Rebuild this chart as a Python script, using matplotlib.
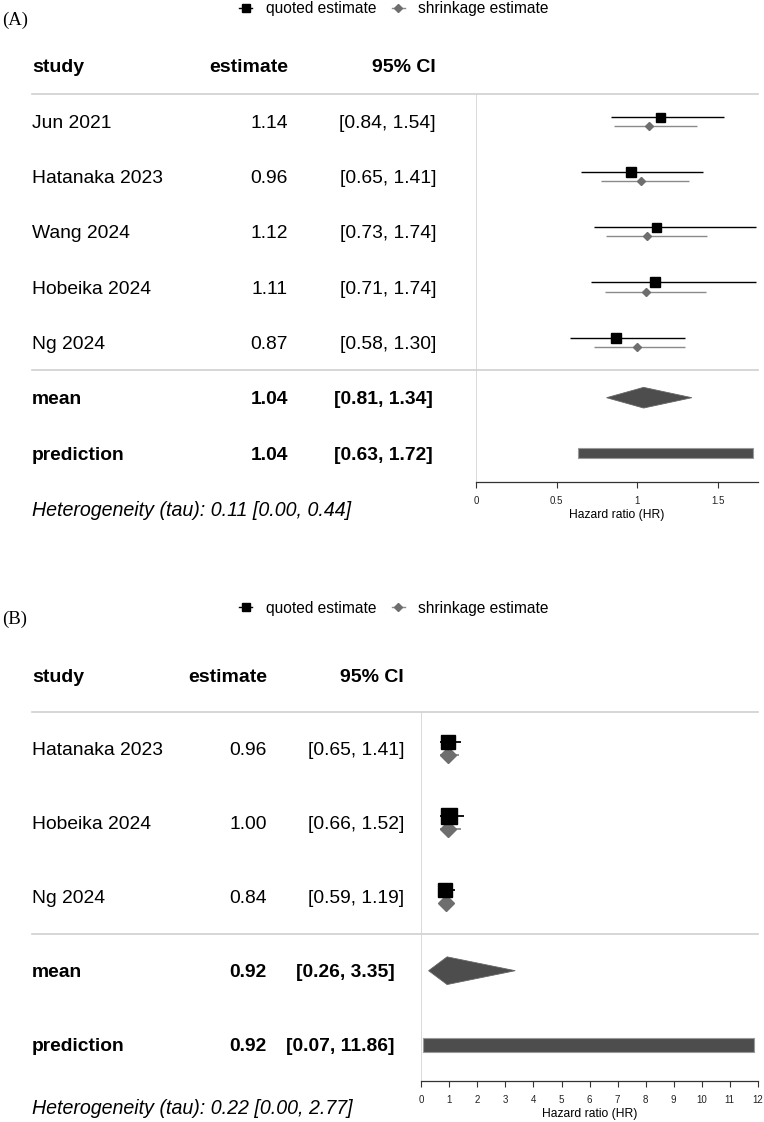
import matplotlib
matplotlib.use("Agg")
import matplotlib.pyplot as plt
from matplotlib.lines import Line2D
from matplotlib.patches import Polygon

plt.rcParams['font.family'] = ['Liberation Sans', 'DejaVu Sans']

W, H = 764, 1122

# ── Panel A data ────────────────────────────────────────────────
studies_a = ["Jun 2021", "Hatanaka 2023", "Wang 2024", "Hobeika 2024", "Ng 2024"]
est_a = [1.14, 0.96, 1.12, 1.11, 0.87]
lo_a = [0.84, 0.65, 0.73, 0.71, 0.58]
hi_a = [1.54, 1.41, 1.74, 1.74, 1.30]
shr_est_a = [1.075, 1.023, 1.062, 1.058, 1.002]
shr_lo_a = [0.857, 0.778, 0.807, 0.803, 0.731]
shr_hi_a = [1.375, 1.320, 1.433, 1.427, 1.296]
mean_a = [1.04, 0.81, 1.34]
pred_a = [1.04, 0.63, 1.72]
tau_a = [0.11, 0.00, 0.44]
ticks_a = [0, 0.5, 1, 1.5]
ticklabels_a = ["0", "0.5", "1", "1.5"]

# ── Panel B data ────────────────────────────────────────────────
studies_b = ["Hatanaka 2023", "Hobeika 2024", "Ng 2024"]
est_b = [0.96, 1.00, 0.84]
lo_b = [0.65, 0.66, 0.59]
hi_b = [1.41, 1.52, 1.19]
shr_est_b = [0.965, 0.965, 0.88]
shr_lo_b = [0.67, 0.67, 0.66]
shr_hi_b = [1.35, 1.42, 1.18]
mean_b = [0.92, 0.26, 3.35]
pred_b = [0.92, 0.07, 11.86]
tau_b = [0.22, 0.00, 2.77]
ticks_b = list(range(13))
ticklabels_b = [str(t) for t in ticks_b]

# marker sizes (pixels) for quoted squares
sq_px_a = [9, 9.3, 9, 10.7, 10.3]
sq_px_b = [14.5, 15.5, 13.5]

PT = 0.72  # px -> pt at dpi 100
FS = 13.9
GRID = '#d0d0d0'
DARK = '#4d4d4d'
SHR_LINE = '#8a8a8a'
SHR_MARK = '#6e6e6e'

fig = plt.figure(figsize=(W / 100, H / 100), dpi=100)
bg = fig.add_axes([0, 0, 1, 1])
bg.set_xlim(0, W)
bg.set_ylim(H, 0)
bg.axis('off')


def draw_panel(tag, legend_y, row0, step, axis_y, x0_px, xmax,
               studies, est, lo, hi, s_est, s_lo, s_hi, mean, pred, tau,
               ticks, ticklabels, sq_px, dia_px, lw, col_est, col_ci, col_ci_b,
               het_y):
    # panel tag + legend
    bg.text(2, legend_y + 11, tag, fontsize=13.5, family='Liberation Serif',
            va='center', ha='left')
    handles = [Line2D([0], [0], color='black', lw=1, marker='s', markersize=6),
               Line2D([0], [0], color=SHR_LINE, lw=1, marker='D',
                      markersize=4.5, markerfacecolor=SHR_MARK,
                      markeredgecolor=SHR_MARK)]
    fig.legend(handles, ["quoted estimate", "shrinkage estimate"], ncol=2,
               loc='center', bbox_to_anchor=(394 / W, 1 - legend_y / H),
               frameon=False, fontsize=11.2, handlelength=0.85,
               handletextpad=0.85, columnspacing=1.0, borderpad=0,
               borderaxespad=0)

    n = len(studies)
    ypix = lambda r: row0 + r * step + 2

    # table header
    hy = row0 - 0.965 * step
    bg.text(32, hy, "study", fontsize=14, weight='bold', va='center')
    bg.text(col_est, hy, "estimate", fontsize=14, weight='bold', va='center', ha='right')
    bg.text(col_ci, hy, "95% CI", fontsize=14, weight='bold', va='center', ha='right')

    # separator lines
    for r in (-0.5, n - 0.5):
        bg.plot([32, 757.5], [row0 + r * step] * 2, color=GRID, lw=1.2)

    for i, s in enumerate(studies):
        bg.text(32, ypix(i), s, fontsize=FS, va='center')
        bg.text(col_est, ypix(i), f"{est[i]:.2f}", fontsize=FS, va='center', ha='right')
        bg.text(col_ci, ypix(i), f"[{lo[i]:.2f}, {hi[i]:.2f}]", fontsize=FS,
                va='center', ha='right')
    for k, (lab, vals) in enumerate([("mean", mean), ("prediction", pred)]):
        y = ypix(n + k)
        bg.text(32, y, lab, fontsize=FS, weight='bold', va='center')
        bg.text(col_est, y, f"{vals[0]:.2f}", fontsize=FS, weight='bold',
                va='center', ha='right')
        bg.text(col_ci_b, y, f"[{vals[1]:.2f}, {vals[2]:.2f}]", fontsize=FS,
                weight='bold', va='center', ha='right')
    bg.text(32, het_y, f"Heterogeneity (tau): {tau[0]:.2f} [{tau[1]:.2f}, {tau[2]:.2f}]",
            fontsize=14.1, style='italic', va='center')

    # forest axes
    top_px = row0 - 0.5 * step
    right_px = 757.8
    ax = fig.add_axes([x0_px / W, 1 - axis_y / H, (right_px - x0_px) / W,
                       (axis_y - top_px) / H])
    ax.patch.set_alpha(0)
    ax.set_xlim(0, xmax)
    ax.set_ylim((axis_y - row0) / step, -0.5)
    for sp in ('top', 'right', 'left'):
        ax.spines[sp].set_visible(False)
    ax.spines['bottom'].set_color('#333333')
    ax.spines['bottom'].set_linewidth(0.9)
    ax.set_yticks([])
    ax.set_xticks(ticks)
    ax.set_xticklabels(ticklabels)
    ax.tick_params(axis='x', length=4.5, width=0.8, color='#333333',
                   labelsize=7, labelcolor='#222222', pad=5.5)
    ax.set_xlabel("Hazard ratio (HR)", fontsize=8.7, labelpad=2.5)
    ax.axvline(0, color=GRID, lw=1.1, zorder=0)

    off = 0.084
    for i in range(n):
        ax.hlines(i - off, lo[i], hi[i], color='black', lw=lw, zorder=2)
        ax.hlines(i + off, s_lo[i], s_hi[i], color=SHR_LINE, lw=lw, zorder=2)
        ax.plot(est[i], i - off, marker='s', color='black',
                markersize=sq_px[i] * PT, zorder=4, clip_on=False)
        ax.plot(s_est[i], i + off, marker='D', color=SHR_MARK,
                markersize=dia_px * PT / 1.414, zorder=3, clip_on=False)

    # summary diamond
    hh = 0.187
    ym = n
    ax.add_patch(Polygon([[mean[1], ym], [mean[0], ym - hh], [mean[2], ym],
                          [mean[0], ym + hh]], closed=True, facecolor=DARK,
                         edgecolor='#666666', lw=0.6, zorder=3))
    # prediction bar
    ax.barh(n + 1, pred[2] - pred[1], left=pred[1], height=0.19,
            color=DARK, edgecolor='#999999', lw=0.8, zorder=3)
    return ax


draw_panel("(A)", 9, 121.2, 55.3, 481.7, 476.3, 1.75,
           studies_a, est_a, lo_a, hi_a, shr_est_a, shr_lo_a, shr_hi_a,
           mean_a, pred_a, tau_a, ticks_a, ticklabels_a,
           sq_px_a, 8.3, 1.0, 288, 436, 433, 510)

draw_panel("(B)", 608, 748.7, 74.0, 1081, 421.3, 12,
           studies_b, est_b, lo_b, hi_b, shr_est_b, shr_lo_b, shr_hi_b,
           mean_b, pred_b, tau_b, ticks_b, ticklabels_b,
           sq_px_b, 15, 1.3, 267, 404, 395, 1108)

fig.savefig("out.png", dpi=100)
